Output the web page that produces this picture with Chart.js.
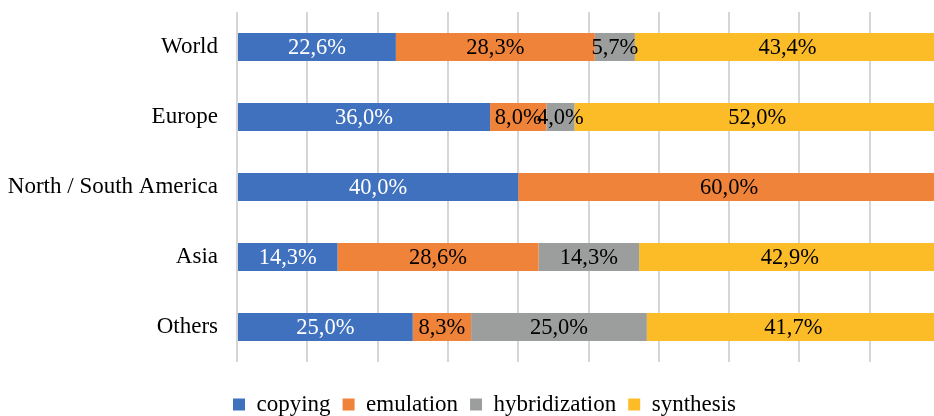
<!DOCTYPE html>
<html>
<head>
<meta charset="utf-8">
<script src="https://cdn.jsdelivr.net/npm/chart.js@4"></script>
<style>
    html, body { margin: 0; padding: 0; background: #fff; overflow: hidden; }
    #wrap { position: relative; width: 940px; height: 426px; }
</style>
</head>
<body>
<div id="wrap"><canvas id="bar-chart-regions"></canvas></div>
<script>
var regions = ['World', 'Europe', 'North / South America', 'Asia', 'Others'];

var copying = [22.6, 36.0, 40.0, 14.3, 25.0];
var emulation = [28.3, 8.0, 60.0, 28.6, 8.3];
var hybridization = [5.7, 4.0, 0, 14.3, 25.0];
var synthesis = [43.4, 52.0, 0, 42.9, 41.7];

var seriesNames = ['copying', 'emulation', 'hybridization', 'synthesis'];
var seriesColors = ['#4071BF', '#F0833A', '#9C9E9E', '#FCBC27'];
var labelColors = ['#ffffff', '#000000', '#000000', '#000000'];

var fontFamily = '"Liberation Serif", "Times New Roman", serif';

// draws the percentage inside every segment, excel style "22,6%"
var valueLabels = {
    id: 'valueLabels',
    afterDatasetsDraw: function (chart) {
        var ctx = chart.ctx;
        ctx.save();
        ctx.font = '22.5px ' + fontFamily;
        ctx.textAlign = 'center';
        ctx.textBaseline = 'middle';
        chart.data.datasets.forEach(function (ds, i) {
            chart.getDatasetMeta(i).data.forEach(function (bar, j) {
                var v = ds.data[j];
                if (!v) return;
                ctx.fillStyle = labelColors[i];
                ctx.fillText(v.toFixed(1).replace('.', ',') + '%', (bar.x + bar.base) / 2, bar.y + 1);
            });
        });
        ctx.restore();
    }
};

// legend sits a bit right of the canvas centre in the original
var legendShift = {
    id: 'legendShift',
    afterLayout: function (chart) {
        chart.legend.left += 29;
    }
};

var allSeries = [copying, emulation, hybridization, synthesis];

new Chart(document.getElementById('bar-chart-regions'), {
    type: 'bar',
    data: {
        labels: regions,
        datasets: allSeries.map(function (values, i) {
            return {
                label: seriesNames[i],
                data: values,
                backgroundColor: seriesColors[i],
                borderWidth: 0,
                categoryPercentage: 1,
                barPercentage: 0.4
            };
        })
    },
    options: {
        indexAxis: 'y',
        responsive: true,
        maintainAspectRatio: false,
        animation: false,
        layout: {
            padding: { top: 12, left: 0, right: 0, bottom: 0 }
        },
        scales: {
            x: {
                stacked: true,
                min: 0,
                max: 100,
                ticks: { display: false, stepSize: 10 },
                grid: { color: '#d6d6d6', lineWidth: 2, drawTicks: false },
                border: { display: false },
                afterFit: function (scale) {
                    scale.height = 19;
                    scale.paddingLeft = 0;
                    scale.paddingRight = 0;
                }
            },
            y: {
                stacked: true,
                grid: { display: false, drawTicks: false },
                border: { display: false },
                ticks: {
                    color: '#000',
                    padding: 19,
                    font: { family: fontFamily, size: 23 }
                },
                afterFit: function (scale) {
                    scale.width = 237;
                    scale.paddingTop = 0;
                    scale.paddingBottom = 0;
                }
            }
        },
        plugins: {
            tooltip: { enabled: false },
            legend: {
                position: 'bottom',
                labels: {
                    color: '#000',
                    boxWidth: 12,
                    boxHeight: 12,
                    padding: 12,
                    font: { family: fontFamily, size: 23 }
                }
            }
        }
    },
    plugins: [valueLabels, legendShift]
});
</script>
</body>
</html>
